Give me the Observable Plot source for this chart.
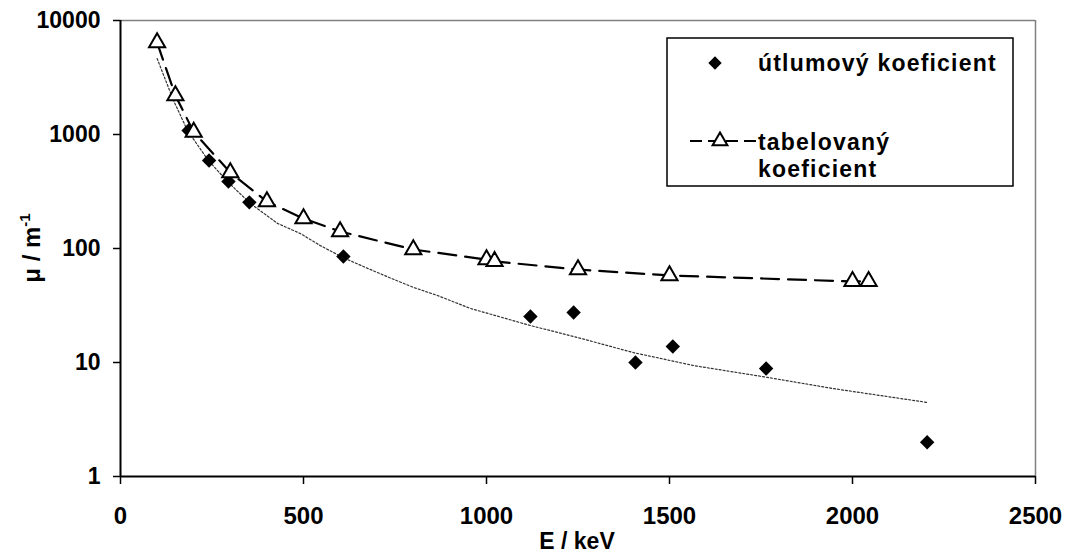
<!DOCTYPE html>
<html>
<head>
<meta charset="utf-8">
<script src="https://cdn.jsdelivr.net/npm/d3@7"></script>
<script src="https://cdn.jsdelivr.net/npm/@observablehq/plot@0.6"></script>
<style>
  body { margin: 0; background: #fff; }
  #chart svg { display: block; }
</style>
</head>
<body>
<div id="chart"></div>
<script>
// measured attenuation coefficient (diamonds)
const measuredE = [186, 242, 295, 352, 609, 1120, 1238, 1407, 1509, 1764, 2204];
const measuredMu = [1084, 592, 387, 254, 85, 25.3, 27.5, 10, 13.8, 8.85, 2];

// tabulated coefficient (triangles, dashed line)
const tableE = [100, 150, 200, 300, 400, 500, 600, 800, 1000, 1022, 1250, 1500, 2000, 2044];
const tableMu = [6400, 2200, 1050, 464, 258, 183, 141, 98, 80, 77, 65.4, 58, 51.4, 51.4];

// dotted trend line
const trendE = [100, 145, 183, 240, 295, 355, 429, 492, 546, 609, 675, 738, 801, 866, 956, 1120, 1257, 1402, 1566, 1768, 1948, 2205];
const trendMu = [4640, 1985, 1084, 592, 379, 248, 166, 135, 106, 83, 67, 55, 45.5, 38.7, 29.8, 21.1, 16.3, 12.2, 9.4, 7.4, 5.9, 4.46];

const xTicks = [0, 500, 1000, 1500, 2000, 2500];
const yTicks = [1, 10, 100, 1000, 10000];

const measured = measuredE.map((e, i) => ({E: e, mu: measuredMu[i]}));
const table = tableE.map((e, i) => ({E: e, mu: tableMu[i]}));
const trend = trendE.map((e, i) => ({E: e, mu: trendMu[i]}));

const FONT = "'Liberation Sans', Arial, Helvetica, sans-serif";

const chart = Plot.plot({
  width: 1065,
  height: 554,
  marginLeft: 120,
  marginRight: 30,
  marginTop: 20,
  marginBottom: 78,
  style: {fontFamily: FONT, fontWeight: "bold", background: "#fff", color: "#000"},
  x: {domain: [0, 2500], label: null},
  y: {type: "log", domain: [1, 10000], label: null},
  marks: [
    Plot.ruleY([10000], {stroke: "#808080", strokeWidth: 1.5}),
    Plot.ruleX([2500], {stroke: "#808080", strokeWidth: 1.5}),
    Plot.axisX({ticks: xTicks, tickFormat: d => String(d), tickSize: 8, tickPadding: 22, fontSize: 24, strokeWidth: 1.5, fill: "#000"}),
    Plot.axisY({ticks: yTicks, tickFormat: d => String(d), tickSize: 7, tickPadding: 13, fontSize: 23, strokeWidth: 1.5, fill: "#000"}),
    Plot.ruleX([0], {stroke: "#000", strokeWidth: 2}),
    Plot.ruleY([1], {stroke: "#000", strokeWidth: 2}),
    Plot.line(trend, {x: "E", y: "mu", stroke: "#333", strokeWidth: 1.2, strokeDasharray: "2,2"}),
    Plot.line(table, {x: "E", y: "mu", stroke: "#000", strokeWidth: 2.2, strokeDasharray: "18,9"}),
    Plot.dot(measured, {x: "E", y: "mu", symbol: "diamond2", r: 6.5, fill: "#000", stroke: "none"}),
    Plot.dot(table, {x: "E", y: "mu", symbol: "triangle", r: 6, fill: "#fff", stroke: "#000", strokeWidth: 2})
  ]
});

document.getElementById("chart").appendChild(chart);

const svg = d3.select(chart);

// axis titles
svg.append("text")
  .attr("x", 577).attr("y", 549)
  .attr("text-anchor", "middle")
  .attr("font-family", FONT).attr("font-weight", "bold").attr("font-size", 23)
  .text("E / keV");

const yt = svg.append("text")
  .attr("transform", "translate(40,248) rotate(-90)")
  .attr("text-anchor", "middle")
  .attr("font-family", FONT).attr("font-weight", "bold").attr("font-size", 24);
yt.append("tspan").text("μ / m");
yt.append("tspan").attr("font-size", 15).attr("dy", -10).text("-1");

// legend
const lg = svg.append("g").attr("text-anchor", "start");
lg.append("rect")
  .attr("x", 667).attr("y", 38).attr("width", 346).attr("height", 148)
  .attr("fill", "#fff").attr("stroke", "#000").attr("stroke-width", 1.5);
lg.append("path")
  .attr("transform", "translate(715,63)")
  .attr("d", d3.symbol(d3.symbolDiamond2, 6 * 6 * Math.PI)())
  .attr("fill", "#000");
lg.append("line")
  .attr("x1", 690).attr("x2", 757).attr("y1", 141).attr("y2", 141)
  .attr("stroke", "#000").attr("stroke-width", 2).attr("stroke-dasharray", "12,6");
lg.append("path")
  .attr("transform", "translate(720,141)")
  .attr("d", d3.symbol(d3.symbolTriangle, 5.5 * 5.5 * Math.PI)())
  .attr("fill", "#fff").attr("stroke", "#000").attr("stroke-width", 2);
const legendText = [["útlumový koeficient", 71], ["tabelovaný", 150], ["koeficient", 177]];
legendText.forEach(([t, y]) => {
  lg.append("text")
    .attr("x", 758).attr("y", y)
    .attr("text-anchor", "start")
    .attr("font-family", FONT).attr("font-weight", "bold").attr("font-size", 23)
    .attr("letter-spacing", 1.2)
    .text(t);
});
</script>
</body>
</html>
